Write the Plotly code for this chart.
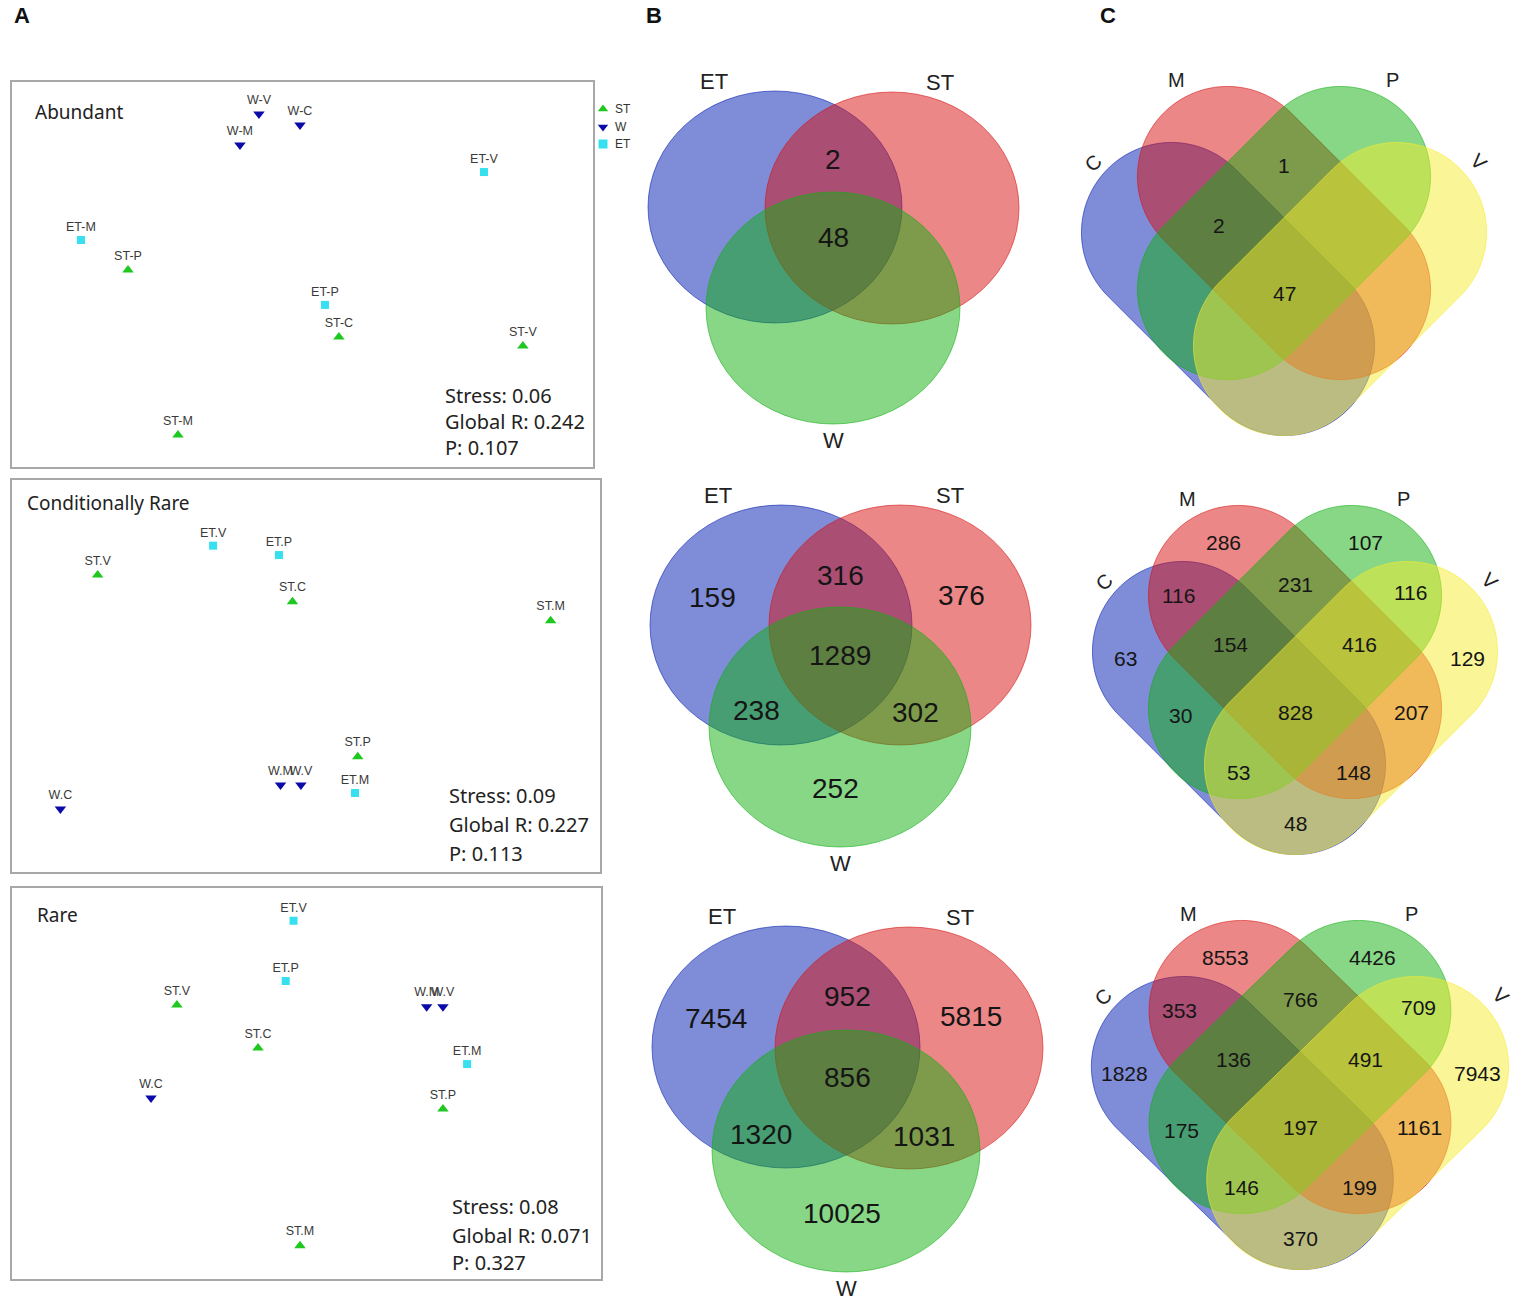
import math
import numpy as np
import plotly.graph_objects as go

FIG_W, FIG_H = 1535, 1311

# ---------------- Panel A: NMDS ordinations (data) ----------------
nmds_titles = ["Abundant", "Conditionally Rare", "Rare"]
nmds_stress = [0.06, 0.09, 0.08]
nmds_global_r = [0.242, 0.227, 0.071]
nmds_p = [0.107, 0.113, 0.327]

abundant_labels = ["W-V", "W-C", "W-M", "ET-V", "ET-M", "ST-P", "ET-P", "ST-C", "ST-V", "ST-M"]
abundant_groups = ["W", "W", "W", "ET", "ET", "ST", "ET", "ST", "ST", "ST"]
abundant_nmds1 = [-0.225, -0.013, -0.323, 0.937, -1.144, -0.901, 0.116, 0.188, 1.138, -0.643]
abundant_nmds2 = [0.829, 0.772, 0.669, 0.529, 0.178, 0.023, -0.157, -0.323, -0.369, -0.829]

condrare_labels = ["ST.V", "ET.V", "ET.P", "ST.C", "ST.M", "ST.P", "W.M", "W.V", "ET.M", "W.C"]
condrare_groups = ["ST", "ET", "ET", "ST", "ST", "ST", "W", "W", "ET", "W"]
condrare_nmds1 = [-1.063, -0.474, -0.138, -0.069, 1.248, 0.264, -0.130, -0.026, 0.250, -1.253]
condrare_nmds2 = [0.515, 0.665, 0.617, 0.379, 0.282, -0.412, -0.556, -0.556, -0.597, -0.679]

rare_labels = ["ET.V", "ET.P", "ST.V", "W.M", "W.V", "ST.C", "ET.M", "W.C", "ST.P", "ST.M"]
rare_groups = ["ET", "ET", "ST", "W", "W", "ST", "ET", "W", "ST", "ST"]
rare_nmds1 = [-0.066, -0.106, -0.660, 0.612, 0.695, -0.247, 0.818, -0.792, 0.695, -0.033]
rare_nmds2 = [0.829, 0.522, 0.400, 0.391, 0.391, 0.181, 0.099, -0.074, -0.130, -0.826]

group_names = ["ST", "W", "ET"]

# ---------------- Panel B: 3-set Venn (data) ----------------
venn3_sets = ["ET", "ST", "W"]
venn3_regions = ["ET", "ST", "ET&ST", "ET&ST&W", "ET&W", "ST&W", "W"]
venn3_abundant = [None, None, 2, 48, None, None, None]
venn3_condrare = [159, 376, 316, 1289, 238, 302, 252]
venn3_rare = [7454, 5815, 952, 856, 1320, 1031, 10025]

# ---------------- Panel C: 4-set Venn (data) ----------------
venn4_sets = ["C", "M", "P", "V"]
venn4_regions = ["M", "P", "C&M", "M&P", "P&V", "C", "C&M&P", "M&P&V", "V",
                 "C&M&P&V", "C&P", "M&V", "C&P&V", "C&M&V", "C&V"]
venn4_abundant = [None, None, None, 1, None, None, 2, None, None, 47, None, None, None, None, None]
venn4_condrare = [286, 107, 116, 231, 116, 63, 154, 416, 129, 828, 30, 207, 53, 148, 48]
venn4_rare = [8553, 4426, 353, 766, 709, 1828, 136, 491, 7943, 197, 175, 1161, 146, 199, 370]

# ---------------- styles / layout constants ----------------
group_style = {
    "ST": dict(symbol="triangle-up", color="#1ec81e", size=10),
    "W": dict(symbol="triangle-down", color="#0a0aa8", size=10),
    "ET": dict(symbol="square", color="#36e0ee", size=8),
}
TXT = "Liberation Sans, Arial, sans-serif"
UI = "Noto Sans, Open Sans, sans-serif"

boxes = [(12, 82, 593, 467), (12, 480, 600, 872), (12, 888, 601, 1279)]
title_pos = [(33, 112), (25, 503), (35, 915)]
stats_pos = [(443, [395, 421, 447]), (447, [795, 824, 853]), (450, [1206, 1235, 1262])]

fig = go.Figure()

nmds_data = [
    (abundant_labels, abundant_groups, abundant_nmds1, abundant_nmds2),
    (condrare_labels, condrare_groups, condrare_nmds1, condrare_nmds2),
    (rare_labels, rare_groups, rare_nmds1, rare_nmds2),
]

layout_axes = {}
for i, (labels, groups, xs, ys) in enumerate(nmds_data):
    ax = "" if i == 0 else str(i + 1)
    x0, y0, x1, y1 = boxes[i]
    w, h = x1 - x0, y1 - y0
    s = w / 3.0
    yr = (h / 2.0) / s
    for g in group_names:
        idx = [k for k, gg in enumerate(groups) if gg == g]
        st = group_style[g]
        fig.add_trace(go.Scatter(
            x=[xs[k] for k in idx], y=[ys[k] for k in idx],
            text=[labels[k] for k in idx],
            mode="markers+text", textposition="top center",
            textfont=dict(family=TXT, size=12.5, color="#3a3a3a"),
            marker=dict(symbol=st["symbol"], color=st["color"], size=st["size"], line=dict(width=0)),
            xaxis="x" + ax, yaxis="y" + ax, showlegend=False, hoverinfo="text",
        ))
    axis_common = dict(showgrid=False, zeroline=False, showticklabels=False, ticks="",
                       showline=True, mirror=True, linecolor="#a8a8a8", linewidth=1.5)
    layout_axes["xaxis" + ax] = dict(domain=[x0 / FIG_W, x1 / FIG_W], range=[-1.5, 1.5],
                                     anchor="y" + ax, **axis_common)
    layout_axes["yaxis" + ax] = dict(domain=[1 - y1 / FIG_H, 1 - y0 / FIG_H], range=[-yr, yr],
                                     anchor="x" + ax, **axis_common)

# global pixel-coordinate axis for the Venn diagrams and free text
layout_axes["xaxis4"] = dict(domain=[0, 1], range=[0, FIG_W], visible=False, anchor="y4")
layout_axes["yaxis4"] = dict(domain=[0, 1], range=[FIG_H, 0], visible=False, anchor="x4")

# legend for panel A (drawn as small markers + text)
leg_pos = [(603, 109), (603, 127), (603, 144)]
fig.add_trace(go.Scatter(
    x=[p[0] for p in leg_pos], y=[p[1] for p in leg_pos], mode="markers",
    marker=dict(symbol=[group_style[g]["symbol"] for g in group_names],
                color=[group_style[g]["color"] for g in group_names], size=9),
    xaxis="x4", yaxis="y4", showlegend=False, hoverinfo="skip"))

annotations = []
shapes = []


def ann(x, y, text, size, color="#1a1a1a", family=TXT, xanchor="center", bold=False, angle=0):
    annotations.append(dict(x=x, y=y, xref="x4", yref="y4", text=("<b>%s</b>" % text) if bold else text,
                            showarrow=False, xanchor=xanchor, yanchor="middle", textangle=angle,
                            font=dict(family=family, size=size, color=color)))


for g, (lx, ly) in zip(group_names, leg_pos):
    ann(lx + 10, ly, g, 12, color="#333333", xanchor="left")

for i in range(3):
    tx, ty = title_pos[i]
    ann(tx, ty, nmds_titles[i], 19, color="#222222", family=UI, xanchor="left")
    sx, sys_ = stats_pos[i]
    lines = ["Stress: %.2f" % nmds_stress[i], "Global R: %.3f" % nmds_global_r[i], "P: %.3f" % nmds_p[i]]
    for line, yy in zip(lines, sys_):
        ann(sx, yy, line, 20, color="#222222", family=UI, xanchor="left")

# panel letters
for letter, lx in zip(["A", "B", "C"], [22, 654, 1108]):
    ann(lx, 15, letter, 22, color="#111111", bold=True)

# ---------------- 3-set Venn geometry ----------------
rgb3 = {"ET": (0, 25, 175), "ST": (215, 15, 15), "W": (15, 175, 15)}
venn3_geom = [  # (ET center, ST center, W center, rx, ry)
    ((775, 207), (892, 208), (833, 308), 127, 116),
    ((781, 625), (900, 625), (840, 727), 131, 120),
    ((786, 1047), (909, 1048), (846, 1151), 134, 121),
]
venn3_offsets = {"ET": (-128, -62), "ST": (121, -64), "ET&ST": (0, -84), "ET&ST&W": (0, -4),
                 "ET&W": (-84, 51), "ST&W": (75, 53), "W": (-5, 129)}
venn3_values = [venn3_abundant, venn3_condrare, venn3_rare]

for pi_, (cE, cS, cW, rx, ry) in enumerate(venn3_geom):
    centers = {"ET": cE, "ST": cS, "W": cW}
    for name in venn3_sets:
        cx, cy = centers[name]
        r, g, b = rgb3[name]
        shapes.append(dict(type="circle", xref="x4", yref="y4", x0=cx - rx, x1=cx + rx,
                           y0=cy - ry, y1=cy + ry, fillcolor="rgba(%d,%d,%d,0.5)" % (r, g, b),
                           line=dict(color="rgba(%d,%d,%d,0.55)" % (r, g, b), width=1), layer="below"))
    # set labels
    ann(cE[0] - 0.48 * rx, cE[1] - ry - 10, "ET", 22, color="#222222")
    ann(cS[0] + 0.38 * rx, cS[1] - ry - 10, "ST", 22, color="#222222")
    ann(cW[0], cW[1] + ry + 16, "W", 22, color="#222222")
    mx = (cE[0] + cS[0] + cW[0]) / 3.0
    my = (cE[1] + cS[1] + cW[1]) / 3.0
    sc = rx / 131.0
    for reg, val in zip(venn3_regions, venn3_values[pi_]):
        if val is None:
            continue
        ox, oy = venn3_offsets[reg]
        ann(mx + ox * sc, my + oy * sc, str(val), 28, color="#151515")

# ---------------- 4-set Venn geometry ----------------
rgb4 = {"C": (0, 25, 175), "M": (215, 15, 15), "P": (15, 175, 15), "V": (245, 235, 45)}
venn4_centers = [(1284, 233), (1295, 652), (1300, 1067)]
venn4_xscale = [1.0, 1.0, 1.03]
L4, R4, SH4 = 80, 90, 56
venn4_offsets = {"M": (-72, -110), "P": (70, -110), "C&M": (-117, -57), "M&P": (0, -68),
                 "P&V": (115, -60), "C": (-170, 6), "C&M&P": (-65, -8), "M&P&V": (64, -8),
                 "V": (172, 6), "C&M&P&V": (0, 60), "C&P": (-115, 63), "M&V": (116, 60),
                 "C&P&V": (-57, 120), "C&M&V": (58, 120), "C&V": (0, 171)}
venn4_values = [venn4_abundant, venn4_condrare, venn4_rare]


def stadium_path(cx, cy, L, r, ux, uy, x_origin, xs, n=48):
    ang = math.atan2(uy, ux)
    c1 = (cx - L * ux, cy - L * uy)
    c2 = (cx + L * ux, cy + L * uy)
    pts = []
    for t in np.linspace(ang - math.pi / 2, ang + math.pi / 2, n):
        pts.append((c2[0] + r * math.cos(t), c2[1] + r * math.sin(t)))
    for t in np.linspace(ang + math.pi / 2, ang + 3 * math.pi / 2, n):
        pts.append((c1[0] + r * math.cos(t), c1[1] + r * math.sin(t)))
    pts = [(x_origin + (px - x_origin) * xs, py) for px, py in pts]
    return "M " + " L ".join("%.2f,%.2f" % p for p in pts) + " Z"


d = 1 / math.sqrt(2)
for pi_, (x0, y0) in enumerate(venn4_centers):
    xs = venn4_xscale[pi_]
    geom = {
        "C": (x0 - SH4, y0 + SH4, d, d),
        "M": (x0, y0, d, d),
        "P": (x0, y0, d, -d),
        "V": (x0 + SH4, y0 + SH4, d, -d),
    }
    for name in venn4_sets:
        cx, cy, ux, uy = geom[name]
        r, g, b = rgb4[name]
        shapes.append(dict(type="path", xref="x4", yref="y4",
                           path=stadium_path(cx, cy, L4, R4, ux, uy, x0, xs),
                           fillcolor="rgba(%d,%d,%d,0.5)" % (r, g, b),
                           line=dict(color="rgba(%d,%d,%d,0.55)" % (r, g, b), width=1), layer="below"))
    ann(x0 - 108 * xs, y0 - 153, "M", 20, color="#222222")
    ann(x0 + 108 * xs, y0 - 153, "P", 20, color="#222222")
    ann(x0 - 191 * xs, y0 - 70, "C", 20, color="#222222", angle=-45)
    ann(x0 + 195 * xs, y0 - 71, "V", 20, color="#222222", angle=45)
    for reg, val in zip(venn4_regions, venn4_values[pi_]):
        if val is None:
            continue
        ox, oy = venn4_offsets[reg]
        ann(x0 + ox * xs, y0 + oy, str(val), 21, color="#151515")

fig.update_layout(
    width=FIG_W, height=FIG_H, margin=dict(l=0, r=0, t=0, b=0),
    paper_bgcolor="white", plot_bgcolor="rgba(0,0,0,0)",
    showlegend=False, shapes=shapes, annotations=annotations,
    **layout_axes,
)

fig.write_html("out.html", config={"displayModeBar": False},
               post_script="document.body.style.margin='0px';")
